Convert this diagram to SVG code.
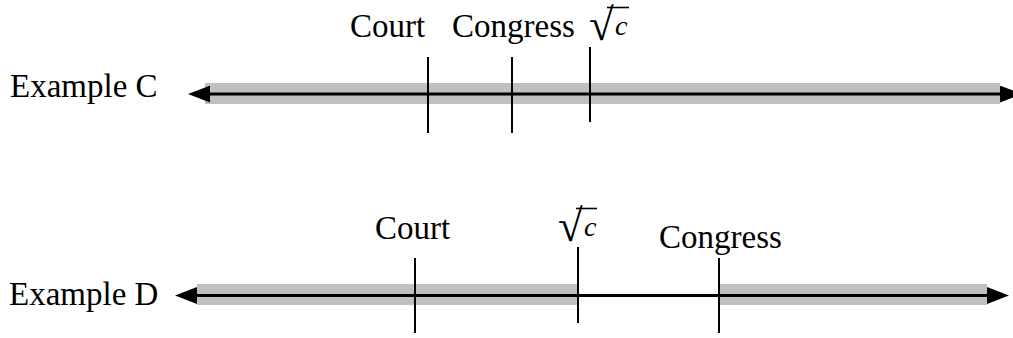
<svg xmlns="http://www.w3.org/2000/svg" width="1013" height="338" viewBox="0 0 1013 338">
<style>
.lbl{font-family:"Liberation Serif","Times New Roman",serif;font-size:33px;fill:#000}
.ci{font-family:"Liberation Serif","Times New Roman",serif;font-style:italic;font-size:28px;fill:#000}
.rad{font-family:"Liberation Serif","DejaVu Serif",serif;font-size:45px;fill:#000}
.band{fill:#c0c0c0}
.axis{stroke:#000;stroke-width:3;fill:none}
.tick{stroke:#000;stroke-width:2}
.vin{stroke:#000;stroke-width:1.6}
</style>
<defs>
<marker id="arr" markerUnits="userSpaceOnUse" markerWidth="22" markerHeight="17" viewBox="0 0 21 16" refX="0" refY="8" orient="auto-start-reverse">
<path d="M0,0 L21,8 L0,16 z" fill="#000"/>
</marker>
</defs>
<rect width="1013" height="338" fill="#fff"/>

<g id="rowC">
<text class="lbl" x="10" y="97">Example C</text>
<rect class="band" x="205" y="83" width="795" height="21"/>
</g>
<g id="rowD">
<text class="lbl" x="9" y="305">Example D</text>
<rect class="band" x="197" y="284" width="381" height="21"/>
<rect class="band" x="719" y="284" width="268" height="21"/>
</g>

<g id="connectors">
<line class="axis" x1="210" y1="94" x2="1000" y2="94" marker-start="url(#arr)" marker-end="url(#arr)"/>
<line class="axis" x1="197" y1="295.5" x2="987" y2="295.5" marker-start="url(#arr)" marker-end="url(#arr)"/>
</g>

<g id="courtC">
<line class="tick" x1="428" y1="57" x2="428" y2="133"/>
<text class="lbl" x="350" y="37">Court</text>
</g>
<g id="congressC">
<line class="tick" x1="512" y1="57" x2="512" y2="133"/>
<text class="lbl" x="452" y="37">Congress</text>
</g>
<g id="sqrtC">
<line class="tick" x1="590" y1="47" x2="590" y2="122"/>
<text class="rad" x="589" y="40">√</text>
<line class="vin" x1="607" y1="7.5" x2="629" y2="7.5"/>
<text class="ci" x="615" y="35">c</text>
</g>

<g id="courtD">
<line class="tick" x1="415" y1="258" x2="415" y2="333"/>
<text class="lbl" x="375" y="239">Court</text>
</g>
<g id="sqrtD">
<line class="tick" x1="578" y1="247" x2="578" y2="323"/>
<text class="rad" x="558" y="241">√</text>
<line class="vin" x1="576" y1="208.5" x2="597" y2="208.5"/>
<text class="ci" x="584" y="236">c</text>
</g>
<g id="congressD">
<line class="tick" x1="719" y1="258" x2="719" y2="333"/>
<text class="lbl" x="659" y="248">Congress</text>
</g>
</svg>
